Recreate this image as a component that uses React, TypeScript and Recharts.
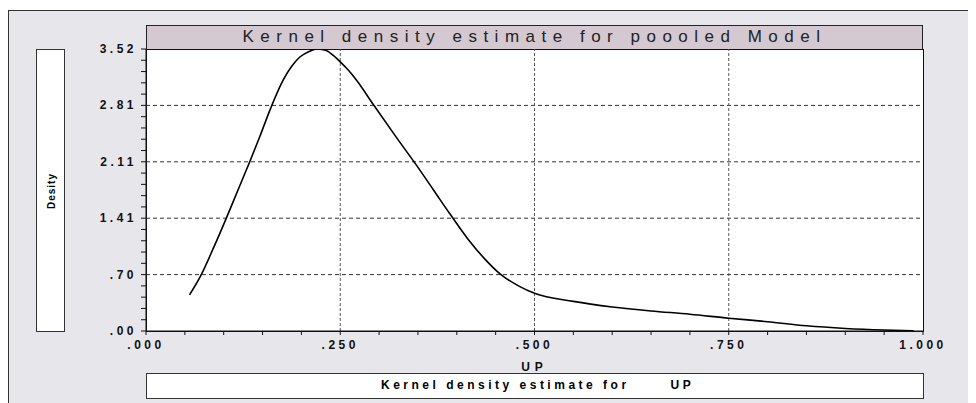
import React from 'react';
import { LineChart, Line, XAxis, YAxis, ReferenceLine } from 'recharts';

// density curve
const upValues = [
  0.056, 0.071, 0.087, 0.103, 0.118, 0.133, 0.147, 0.16, 0.177, 0.188, 0.198, 0.21, 0.221, 0.232,
  0.241, 0.25, 0.26, 0.271, 0.293, 0.322, 0.348, 0.37, 0.392, 0.415, 0.435, 0.456, 0.48, 0.5, 0.55,
  0.6, 0.65, 0.7, 0.75, 0.8, 0.85, 0.9, 0.95, 0.988,
];
const densityValues = [
  0.45, 0.7, 1.04, 1.4, 1.75, 2.1, 2.44, 2.77, 3.14, 3.31, 3.42, 3.49, 3.52, 3.5,
  3.44, 3.36, 3.26, 3.13, 2.82, 2.42, 2.07, 1.76, 1.45, 1.14, 0.91, 0.71, 0.56, 0.47, 0.37,
  0.3, 0.25, 0.21, 0.16, 0.116, 0.065, 0.032, 0.012, 0.003,
];

const xMajorTicks = [0, 0.25, 0.5, 0.75, 1];
const xTickLabels = ['.000', '.250', '.500', '.750', '1.000'];
const yMajorTicks = [0, 0.704, 1.408, 2.112, 2.816, 3.52];
const yTickLabels = ['.00', '.70', '1.41', '2.11', '2.81', '3.52'];

const title = 'Kernel density estimate for poooled Model';
const legendText = 'Kernel density estimate for      UP';
const xLabel = 'UP';
const yLabel = 'Desity';

const data = upValues.map((up, i) => ({ up, density: densityValues[i] }));

// five minor steps between each pair of major ticks
const subdivide = (majors: number[]) => {
  const out: number[] = [];
  for (let i = 0; i < majors.length - 1; i++) {
    for (let k = 0; k < 5; k++) out.push(majors[i] + ((majors[i + 1] - majors[i]) * k) / 5);
  }
  out.push(majors[majors.length - 1]);
  return out;
};
const xTicks = subdivide(xMajorTicks);
const yTicks = subdivide(yMajorTicks);

const labelFor = (v: number, majors: number[], labels: string[]) => {
  const i = majors.findIndex((m) => Math.abs(m - v) < 1e-6);
  return i >= 0 ? labels[i] : '';
};

const tickFont = { fontFamily: '"Liberation Sans", Arial, sans-serif', fontWeight: 700, fontSize: 12 };

const XTick = (props: any) => {
  const { x, y, payload } = props;
  const text = labelFor(payload.value, xMajorTicks, xTickLabels);
  if (!text) return null;
  return (
    <text x={x} y={y} dy={12} textAnchor="middle" fill="#111" letterSpacing={3.5} style={tickFont}>
      {text}
    </text>
  );
};

const YTick = (props: any) => {
  const { x, y, payload } = props;
  const text = labelFor(payload.value, yMajorTicks, yTickLabels);
  if (!text) return null;
  return (
    <text x={x - 2} y={y} dy={4} textAnchor="end" fill="#111" letterSpacing={3.5} style={tickFont}>
      {text}
    </text>
  );
};

const box = (left: number, top: number, width: number, height: number, extra: React.CSSProperties = {}): React.CSSProperties => ({
  position: 'absolute',
  left,
  top,
  width,
  height,
  boxSizing: 'border-box',
  ...extra,
});

export default function App() {
  return (
    <div style={{ position: 'relative', width: 968, height: 395, overflow: 'hidden', fontFamily: '"Liberation Sans", Arial, sans-serif' }}>
      <div style={box(0, 2, 967, 420, { background: '#e7e6eb', borderTop: '1px solid #333', borderLeft: '1px solid #333', borderRight: '1px solid #333' })} />
      <div
        style={box(138, 17, 777, 25, {
          background: '#d4c9d1',
          border: '1px solid #222',
          textAlign: 'center',
          fontSize: 17,
          letterSpacing: 6.5,
          lineHeight: '22px',
          color: '#222',
          whiteSpace: 'nowrap',
        })}
      >
        {title}
      </div>
      <div style={box(138, 41, 778, 283, { background: '#fff', border: '1px solid #111' })} />
      <div style={box(28, 41, 29, 283, { background: '#fff', border: '1px solid #333' })}>
        <div
          style={{
            position: 'absolute',
            left: 14,
            top: 141,
            transform: 'translate(-50%, -50%) rotate(-90deg)',
            fontSize: 10,
            fontWeight: 700,
            letterSpacing: 1,
            whiteSpace: 'nowrap',
          }}
        >
          {yLabel}
        </div>
      </div>
      <div
        style={box(138, 365, 778, 26, {
          background: '#fff',
          border: '1px solid #333',
          fontSize: 12,
          fontWeight: 700,
          letterSpacing: 3.5,
          lineHeight: '23px',
          whiteSpace: 'pre',
          paddingLeft: 234,
        })}
      >
        {legendText}
      </div>
      <div style={{ position: 'absolute', left: 0, top: 0 }}>
        <LineChart width={968} height={395} data={data} margin={{ top: 41, right: 53, bottom: 42, left: 0 }}>
          <XAxis
            dataKey="up"
            type="number"
            domain={[0, 1]}
            ticks={xTicks}
            interval={0}
            tickSize={4}
            height={30}
            axisLine={{ stroke: '#111' }}
            tickLine={{ stroke: '#111' }}
            tick={<XTick />}
            label={{ value: xLabel, position: 'insideBottom', offset: -10, fill: '#111', fontSize: 12, fontWeight: 700, letterSpacing: 5 }}
          />
          <YAxis
            type="number"
            domain={[0, 3.52]}
            ticks={yTicks}
            interval={0}
            tickSize={5}
            width={138}
            allowDataOverflow
            axisLine={{ stroke: '#111' }}
            tickLine={{ stroke: '#111' }}
            tick={<YTick />}
          />
          {yMajorTicks.slice(1, -1).map((v) => (
            <ReferenceLine key={'h' + v} y={v} stroke="#333" strokeDasharray="4 3" />
          ))}
          {xMajorTicks.slice(1, -1).map((v) => (
            <ReferenceLine key={'v' + v} x={v} stroke="#555" strokeDasharray="3 2" />
          ))}
          <Line
            type="monotone"
            dataKey="density"
            stroke="#000"
            strokeWidth={1.6}
            dot={false}
            isAnimationActive={false}
          />
        </LineChart>
      </div>
    </div>
  );
}
